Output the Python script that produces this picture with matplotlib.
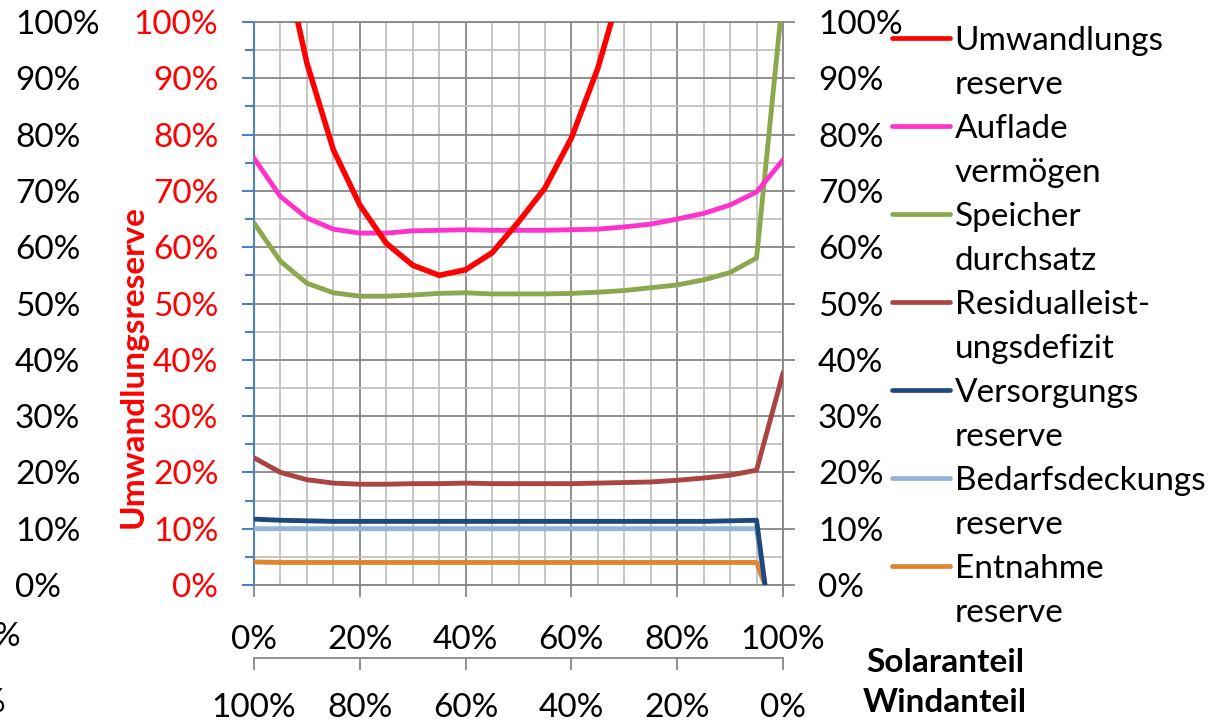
import matplotlib
matplotlib.use('Agg')
import matplotlib.pyplot as plt
from matplotlib.lines import Line2D
from matplotlib.ticker import MultipleLocator

plt.rcParams['font.family'] = ['Lato', 'DejaVu Sans']
plt.rcParams['font.size'] = 24

# Solaranteil in %
x = [0, 5, 10, 15, 20, 25, 30, 35, 40, 45, 50, 55, 60, 65, 70, 75, 80, 85, 90, 95, 100]
x_cut = [0, 5, 10, 15, 20, 25, 30, 35, 40, 45, 50, 55, 60, 65, 70, 75, 80, 85, 90, 95, 96.6]

umwandlung = [1.45, 1.14, 0.927, 0.773, 0.675, 0.607, 0.568, 0.55, 0.56, 0.59, 0.645,
              0.705, 0.794, 0.918, 1.08, 1.3, 1.6, 2.0, 2.5, 3.2, 4.0]
auflade = [0.758, 0.69, 0.652, 0.632, 0.625, 0.625, 0.629, 0.63, 0.631, 0.63, 0.63,
           0.63, 0.631, 0.632, 0.636, 0.641, 0.65, 0.66, 0.675, 0.698, 0.755]
speicher = [0.643, 0.575, 0.536, 0.519, 0.513, 0.513, 0.515, 0.518, 0.519, 0.517, 0.517,
            0.517, 0.518, 0.52, 0.523, 0.528, 0.533, 0.542, 0.555, 0.581, 1.05]
residual = [0.226, 0.2, 0.187, 0.181, 0.179, 0.179, 0.18, 0.18, 0.181, 0.18, 0.18,
            0.18, 0.18, 0.181, 0.182, 0.183, 0.186, 0.19, 0.195, 0.204, 0.376]
versorgung = [0.117, 0.115, 0.114, 0.113, 0.113, 0.113, 0.113, 0.113, 0.113, 0.113, 0.113,
              0.113, 0.113, 0.113, 0.113, 0.113, 0.113, 0.113, 0.114, 0.115, 0.0]
bedarf = [0.1, 0.1, 0.1, 0.1, 0.1, 0.1, 0.1, 0.1, 0.1, 0.1, 0.1,
          0.1, 0.1, 0.1, 0.1, 0.1, 0.1, 0.1, 0.1, 0.1, 0.0]
entnahme = [0.041, 0.04, 0.04, 0.04, 0.04, 0.04, 0.04, 0.04, 0.04, 0.04, 0.04,
            0.04, 0.04, 0.04, 0.04, 0.04, 0.04, 0.04, 0.04, 0.04, 0.0]

y_ticks = [0, 0.1, 0.2, 0.3, 0.4, 0.5, 0.6, 0.7, 0.8, 0.9, 1.0]
y_labels = ['0%', '10%', '20%', '30%', '40%', '50%', '60%', '70%', '80%', '90%', '100%']
x_ticks = [0, 20, 40, 60, 80, 100]
solar_labels = ['0%', '20%', '40%', '60%', '80%', '100%']
wind_labels = ['100%', '80%', '60%', '40%', '20%', '0%']

legend_names = ['Umwandlungs\nreserve', 'Auflade\nvermögen', 'Speicher\ndurchsatz',
                'Residualleist-\nungsdefizit', 'Versorgungs\nreserve',
                'Bedarfsdeckungs\nreserve', 'Entnahme\nreserve']
colors = ['#FF0000', '#FF33CC', '#8BA84E', '#A94441', '#1F497D', '#95B3D7', '#E2832F']

W, H = 1213, 722
PT = 0.72  # px -> pt at 100 dpi
grid_dark = '#878787'
grid_light = '#C0C0C0'

fig = plt.figure(figsize=(W / 100, H / 100), dpi=100)
ax = fig.add_axes([254 / W, (H - 585) / H, 529 / W, 563 / H])

series = [(x, umwandlung), (x, auflade), (x, speicher), (x, residual),
          (x_cut, versorgung), (x_cut, bedarf), (x_cut, entnahme)]
for i, (xs, ys) in enumerate(series):
    lw = 4.0 if i == 0 else 3.5
    ax.plot(xs, ys, color=colors[i], lw=lw, zorder=3 + (7 - i) * 0.01)

ax.set_xlim(0, 100)
ax.set_ylim(0, 1)
ax.xaxis.set_major_locator(MultipleLocator(20))
ax.xaxis.set_minor_locator(MultipleLocator(5))
ax.yaxis.set_major_locator(MultipleLocator(0.1))
ax.yaxis.set_minor_locator(MultipleLocator(0.05))
ax.set_axisbelow(True)
ax.grid(which='major', color=grid_dark, lw=1.3)
ax.grid(which='minor', color=grid_light, lw=1.3)

ax.set_xticks(x_ticks)
ax.set_xticklabels(solar_labels)
ax.set_yticks(y_ticks)
ax.set_yticklabels(y_labels, color='red')
ax.tick_params(axis='x', which='major', direction='out', length=12 * PT, width=1.3,
               color=grid_dark, pad=20)
ax.tick_params(axis='x', which='minor', length=0)
ax.tick_params(axis='y', which='major', direction='out', length=12 * PT, width=1.5,
               color='#4F81BD', pad=17)
ax.tick_params(axis='y', which='minor', direction='out', length=9 * PT, width=1.5,
               color='#4F81BD')
for side in ['top', 'right', 'bottom']:
    ax.spines[side].set_color(grid_dark)
    ax.spines[side].set_linewidth(1.3)
ax.spines['left'].set_color('#4F81BD')
ax.spines['left'].set_linewidth(1.5)

# right axis
axr = ax.twinx()
axr.set_ylim(0, 1)
axr.set_yticks(y_ticks)
axr.set_yticklabels(y_labels)
axr.tick_params(axis='y', direction='out', length=12 * PT, width=1.3, color=grid_dark, pad=16.5)
for s in axr.spines.values():
    s.set_visible(False)

# far left black axis (cut off in the original)
axl = ax.twinx()
axl.set_ylim(0, 1)
axl.yaxis.tick_left()
axl.spines['left'].set_position(('outward', 239 * PT))
for s in axl.spines.values():
    s.set_visible(False)
axl.set_yticks(y_ticks)
axl.set_yticklabels(y_labels)
axl.tick_params(axis='y', length=0, pad=0)
for lab in axl.get_yticklabels():
    lab.set_horizontalalignment('left')

# second x axis: Windanteil
axb = ax.twiny()
axb.set_xlim(0, 100)
axb.xaxis.tick_bottom()
axb.spines['bottom'].set_position(('outward', 73 * PT))
for side in ['top', 'left', 'right']:
    axb.spines[side].set_visible(False)
axb.spines['bottom'].set_color(grid_dark)
axb.spines['bottom'].set_linewidth(1.3)
axb.set_xticks(x_ticks)
axb.set_xticklabels(wind_labels)
axb.tick_params(axis='x', direction='out', length=12 * PT, width=1.3, color=grid_dark, pad=16.5)

fig.text(133 / W, 1 - 367 / H, 'Umwandlungsreserve', rotation=90, color='red',
         fontweight='bold', ha='center', va='center')
fig.text(945 / W, 1 - 663 / H, 'Solaranteil', fontweight='bold', ha='center', va='center')
fig.text(945 / W, 1 - 703 / H, 'Windanteil', fontweight='bold', ha='center', va='center')
# clipped labels at the lower left edge, as in the original
fig.text(21 / W, 1 - 637 / H, '100%', ha='right', va='center')
fig.text(6 / W, 1 - 703 / H, '100%', ha='right', va='center')

# legend: handle on first text line of each entry
handles, labels = [], []
for name, c in zip(legend_names, colors):
    first, second = name.split('\n')
    handles.append(Line2D([], [], color=c, lw=3.4, solid_capstyle='round'))
    labels.append(first)
    handles.append(Line2D([], [], color='none'))
    labels.append(second)
fig.legend(handles, labels, loc='upper left', bbox_to_anchor=(892 / W, 1 - 26 / H),
           frameon=False, handlelength=1.73, handletextpad=0.15, borderpad=0,
           borderaxespad=0, labelspacing=0.42)

fig.savefig('out.png', dpi=100)
